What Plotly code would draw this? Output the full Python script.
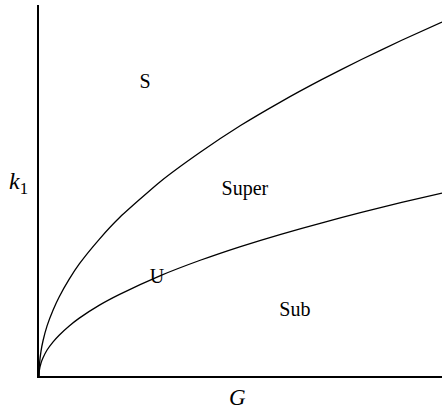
import plotly.graph_objects as go

# Boundary curves in the (G, k1) plane
g_vals = [0, 0.001, 0.005, 0.01, 0.02, 0.035, 0.05, 0.075, 0.1, 0.15, 0.2, 0.3, 0.4, 0.5, 0.6, 0.7, 0.8, 0.9, 1.0]
k_upper = [0, 0.030, 0.067, 0.095, 0.135, 0.178, 0.213, 0.261, 0.302, 0.369, 0.427, 0.523, 0.603, 0.675, 0.739, 0.798, 0.853, 0.905, 0.954]
k_lower = [0, 0.016, 0.035, 0.049, 0.070, 0.092, 0.110, 0.135, 0.156, 0.191, 0.220, 0.270, 0.312, 0.349, 0.382, 0.412, 0.441, 0.468, 0.493]

# Region labels
region_text = ["S", "Super", "U", "Sub"]
region_g = [0.263, 0.511, 0.293, 0.635]
region_k = [0.79, 0.501, 0.264, 0.175]

serif = "Liberation Serif, Times New Roman, serif"

fig = go.Figure()
for ks in (k_upper, k_lower):
    fig.add_trace(go.Scatter(
        x=g_vals, y=ks, mode="lines",
        line=dict(color="black", width=1.3, shape="spline", smoothing=0.5),
        showlegend=False, hoverinfo="skip",
    ))

fig.add_trace(go.Scatter(
    x=region_g, y=region_k, mode="text", text=region_text,
    textfont=dict(family=serif, size=20, color="black"),
    showlegend=False, hoverinfo="skip",
))

fig.update_layout(
    width=442, height=412,
    margin=dict(l=39, r=0, t=5, b=36),
    paper_bgcolor="white", plot_bgcolor="white",
    xaxis=dict(range=[0, 1], showgrid=False, zeroline=False, showticklabels=False,
               ticks="", showline=True, linecolor="black", linewidth=1.5),
    yaxis=dict(range=[0, 1], showgrid=False, zeroline=False, showticklabels=False,
               ticks="", showline=True, linecolor="black", linewidth=1.5),
    annotations=[
        dict(text="<i>k</i><sub>1</sub>", x=-21 / 403, y=(376 - 183) / 371,
             xref="paper", yref="paper", showarrow=False,
             font=dict(family=serif, size=24, color="black"),
             xanchor="center", yanchor="middle"),
        dict(text="<i>G</i>", x=(237 - 39) / 403, y=-21 / 371,
             xref="paper", yref="paper", showarrow=False,
             font=dict(family=serif, size=23, color="black"),
             xanchor="center", yanchor="middle"),
    ],
)

fig.write_html("out.html")
